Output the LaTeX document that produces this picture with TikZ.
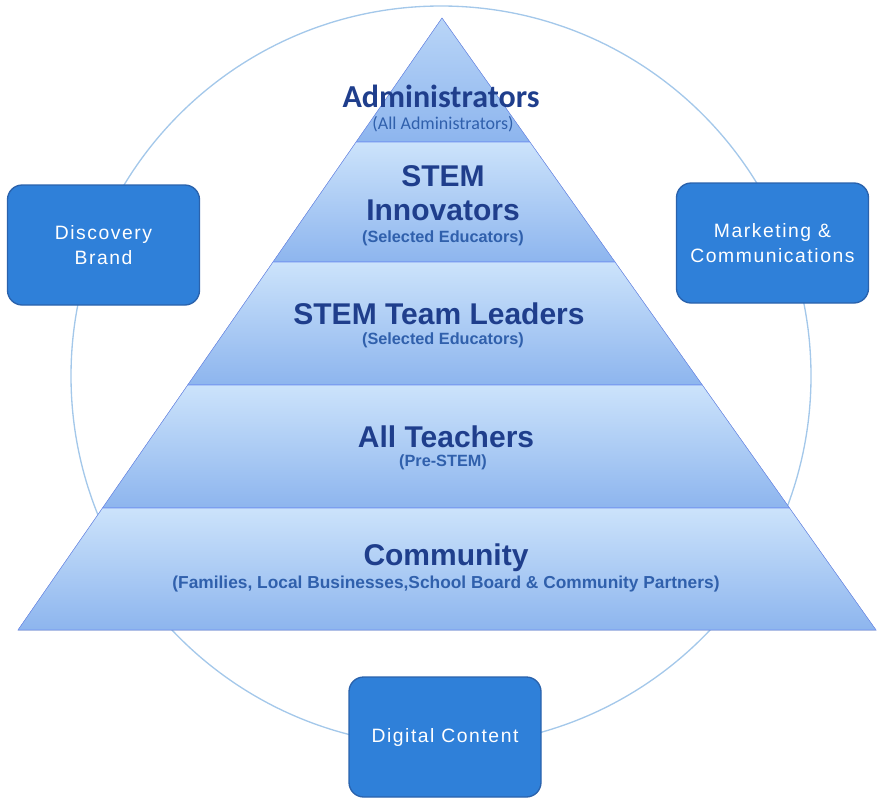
\documentclass[tikz,border=0pt]{standalone}
\usepackage{fontspec}
\setmainfont{Liberation Sans}
\newfontfamily\calfont{Carlito}
\newfontfamily\boxfont[LetterSpace=8]{Liberation Sans}
\definecolor{lvtop}{HTML}{CCE3FB}
\definecolor{lvbot}{HTML}{8DB5EE}
\definecolor{titleblue}{HTML}{1F3E8C}
\definecolor{subblue}{HTML}{3060AC}
\definecolor{boxfill}{HTML}{2F80D9}
\definecolor{boxedge}{HTML}{2A62AC}
\definecolor{ringblue}{HTML}{A4C8EA}
\tikzset{
  layer/.style={top color=lvtop, bottom color=lvbot, draw=lvbot!80!blue, line width=0.4pt},
  title/.style={font=\fontsize{22.5}{25.5}\selectfont\bfseries, text=titleblue, align=center, inner sep=0pt},
  subtitle/.style={font=\fontsize{12.2}{14}\selectfont\bfseries, text=subblue, align=center, inner sep=0pt},
  bluebox/.style={draw=boxedge, line width=1pt, fill=boxfill, rounded corners=11pt,
    minimum width=144pt, minimum height=90pt, text=white, align=center,
    font=\boxfont\fontsize{14.5}{19}\selectfont},
  ring/.style={draw=ringblue, line width=1pt}
}
\begin{document}
\begin{tikzpicture}[x=0.75pt,y=-0.75pt]
\useasboundingbox (0,0) rectangle (877,803);
% ring
\node[ring, circle, minimum size=555pt, inner sep=0pt] (ring) at (441,376) {};
% pyramid layers
\coordinate (apex) at (442,18);
\coordinate (bl) at (18,630);
\coordinate (br) at (876,630);
\fill[layer, top color=lvtop!70!lvbot] (apex) -- (529.9,142) -- (356.1,142) -- cycle;
\fill[layer] (356.1,142) -- (529.9,142) -- (615,262) -- (273,262) -- cycle;
\fill[layer] (273,262) -- (615,262) -- (702.3,385) -- (187.7,385) -- cycle;
\fill[layer] (187.7,385) -- (702.3,385) -- (789.5,508) -- (102.5,508) -- cycle;
\fill[layer] (102.5,508) -- (789.5,508) -- (br) -- (bl) -- cycle;
% texts
\node[title, font=\calfont\fontsize{24}{26}\selectfont\bfseries] (adm) at (441,96) {Administrators};
\node[subtitle, font=\calfont\fontsize{13.5}{15}\selectfont] (admsub) at (443,124) {(All Administrators)};
\node[title] (inn) at (443,193) {STEM\\Innovators};
\node[subtitle] (innsub) at (443,238) {(Selected Educators)};
\node[title] (tl) at (439,314) {STEM Team Leaders};
\node[subtitle] (tlsub) at (443,340) {(Selected Educators)};
\node[title] (at) at (446,437) {All Teachers};
\node[subtitle] (atsub) at (443,462) {(Pre-STEM)};
\node[title] (com) at (446,558) {Community};
\node[subtitle, font=\fontsize{13}{15}\selectfont\bfseries] (comsub) at (446,584) {(Families, Local Businesses,School Board \& Community Partners)};
% boxes
\node[bluebox] (disc) at (103.5,245) {Discovery\\Brand};
\node[bluebox] (mkt) at (772.5,243) {Marketing \&\\Communications};
\node[bluebox] (dig) at (445,737) {Digital Content};
\end{tikzpicture}
\end{document}
